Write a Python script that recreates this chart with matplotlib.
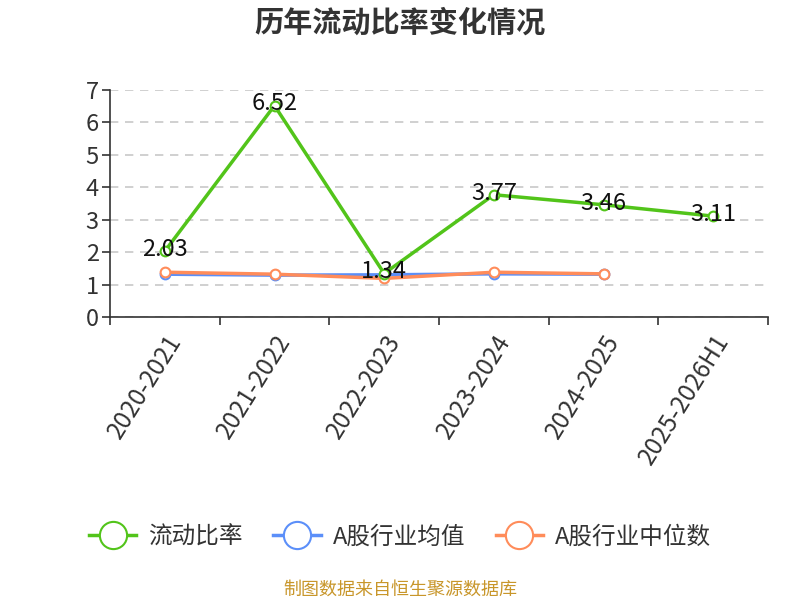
import numpy as np
import matplotlib.pyplot as plt

plt.rcParams['font.family'] = ['Noto Sans CJK SC', 'DejaVu Sans']

periods = ['2020-2021', '2021-2022', '2022-2023', '2023-2024', '2024-2025', '2025-2026H1']
ratio = [2.03, 6.52, 1.34, 3.77, 3.46, 3.11]
ind_mean = [1.32, 1.29, 1.30, 1.33, 1.32]
ind_median = [1.38, 1.32, 1.19, 1.38, 1.33]

c_green = '#52c41a'
c_blue = '#5b8ff9'
c_orange = '#ff8c5a'

fig = plt.figure(figsize=(8, 6), dpi=100)
ax = fig.add_axes([0.1375, 0.4717, 0.8225, 0.3783])

x = np.arange(len(periods))
mk = dict(marker='o', markersize=7, markerfacecolor='white', markeredgewidth=1.5)
ax.plot(x[:len(ind_mean)], ind_mean, color=c_blue, lw=2.5, markeredgecolor=c_blue,
        label='A股行业均值', zorder=3, **mk)
ax.plot(x[:len(ind_median)], ind_median, color=c_orange, lw=2.5, markeredgecolor=c_orange,
        label='A股行业中位数', zorder=4, **mk)
ax.plot(x, ratio, color=c_green, lw=2.5, markeredgecolor=c_green,
        label='流动比率', zorder=5, **mk)

for xi, v in zip(x, ratio):
    ax.text(xi, v + 0.05, f'{v:.2f}', ha='center', va='center', fontsize=17,
            color='#111111', zorder=6)

ax.set_xlim(-0.5, len(periods) - 0.5)
ax.set_ylim(0, 7)
ax.set_yticks(range(8))
ax.set_xticks(np.arange(-0.5, len(periods), 1.0))
ax.set_xticklabels([])
ax.set_xticks(x, minor=True)
ax.set_xticklabels(periods, minor=True, rotation=58, ha='right', rotation_mode='anchor',
                   fontsize=17.5, color='#333333')
ax.tick_params(axis='x', which='minor', length=0, pad=9)
ax.tick_params(axis='x', which='major', length=6, width=1.2, color='#333333')
ax.tick_params(axis='y', length=6, width=1.2, color='#333333', labelsize=17,
               labelcolor='#333333', pad=2)

ax.grid(axis='y', linestyle=(0, (5, 4)), color='#c8c8c8', lw=1.2)
ax.set_axisbelow(True)
for s in ['top', 'right']:
    ax.spines[s].set_visible(False)
for s in ['left', 'bottom']:
    ax.spines[s].set_color('#333333')
    ax.spines[s].set_linewidth(1.2)

fig.text(0.5, 0.962, '历年流动比率变化情况', ha='center', va='center', fontsize=21,
         fontweight='bold', color='#333333')

handles, labels = ax.get_legend_handles_labels()
order = [2, 0, 1]
fig.legend([handles[i] for i in order], [labels[i] for i in order], loc='center',
           bbox_to_anchor=(0.5, 0.105), ncol=3, frameon=False, fontsize=17,
           handlelength=2.0, columnspacing=1.3, handletextpad=0.5,
           markerscale=2.8, labelcolor='#333333')

fig.text(0.5, 0.017, '制图数据来自恒生聚源数据库', ha='center', va='center', fontsize=13,
         color='#c8962a')

fig.savefig('out.png', dpi=100)
